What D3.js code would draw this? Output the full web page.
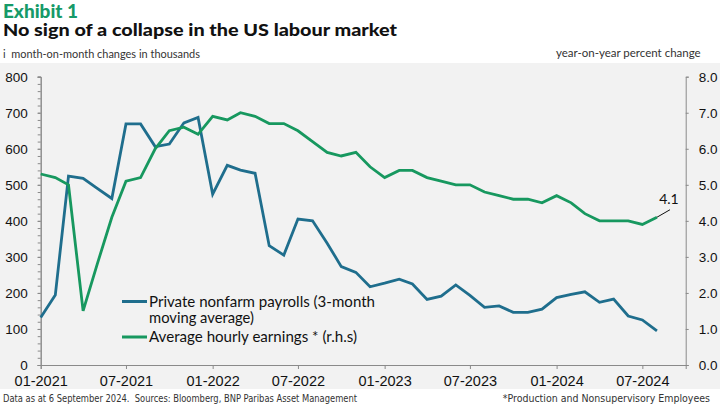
<!DOCTYPE html>
<html>
<head>
<meta charset="utf-8">
<script src="https://cdn.jsdelivr.net/npm/d3@7"></script>
<style>
  body { margin: 0; background: #fff; }
  svg { display: block; font-family: Lato, "Open Sans", sans-serif; }
  .axis path, .axis line { stroke: #8a8a8a; }
  .foot { font-family: "Liberation Sans Narrow", "DejaVu Sans Condensed", sans-serif; }
  .pre { white-space: pre; }
</style>
</head>
<body>
<div id="chart"></div>
<script>
// monthly observations, 01-2021 .. 08-2024
const months = [
  "2021-01","2021-02","2021-03","2021-04","2021-05","2021-06","2021-07","2021-08","2021-09","2021-10","2021-11","2021-12",
  "2022-01","2022-02","2022-03","2022-04","2022-05","2022-06","2022-07","2022-08","2022-09","2022-10","2022-11","2022-12",
  "2023-01","2023-02","2023-03","2023-04","2023-05","2023-06","2023-07","2023-08","2023-09","2023-10","2023-11","2023-12",
  "2024-01","2024-02","2024-03","2024-04","2024-05","2024-06","2024-07","2024-08"
];

// private nonfarm payrolls, 3-month moving average (thousands)
const payrolls = [
  132, 194, 524, 518, 490, 462, 669, 669, 606, 613, 672, 687,
  474, 554, 541, 532, 331, 305, 405, 400, 338, 273, 257, 217,
  227, 238, 225, 182, 191, 222, 193, 160, 164, 146, 146, 155,
  187, 196, 203, 174, 183, 136, 125, 95
];

// average hourly earnings, production & nonsupervisory (% y/y)
const earnings = [
  5.3, 5.2, 5.0, 1.5, 2.8, 4.1, 5.1, 5.2, 6.0, 6.5, 6.6, 6.4,
  6.9, 6.8, 7.0, 6.9, 6.7, 6.7, 6.5, 6.2, 5.9, 5.8, 5.9, 5.5,
  5.2, 5.4, 5.4, 5.2, 5.1, 5.0, 5.0, 4.8, 4.7, 4.6, 4.6, 4.5,
  4.7, 4.5, 4.2, 4.0, 4.0, 4.0, 3.9, 4.1
];

const leftTicks = [0, 100, 200, 300, 400, 500, 600, 700, 800];
const rightTicks = [0, 1, 2, 3, 4, 5, 6, 7, 8];
const xTicks = ["2021-01","2021-07","2022-01","2022-07","2023-01","2023-07","2024-01","2024-07"];

const blue = "#1f6e8d";
const green = "#17985f";

const W = 725, H = 408;
const margin = {top: 76.7, right: 39.3, bottom: 43, left: 40.7};

const parse = d3.timeParse("%Y-%m");
const dates = months.map(parse);

const svg = d3.select("#chart").append("svg")
    .attr("width", W)
    .attr("height", H);

// grey panel
svg.append("rect")
    .attr("x", 0).attr("y", 63)
    .attr("width", 720).attr("height", 326)
    .attr("fill", "#f2f2f2");

let x = d3.scaleTime()
    .domain([parse("2021-01"), parse("2024-10")])
    .range([margin.left, W - margin.right]);

let yL = d3.scaleLinear()
    .domain([0, 800])
    .range([365, margin.top]);

let yR = d3.scaleLinear()
    .domain([0, 8])
    .range([365, margin.top]);

// left axis: minor ticks then labelled ticks
svg.append("g")
    .attr("class", "axis")
    .attr("transform", `translate(${margin.left},0)`)
    .call(d3.axisLeft(yL).tickValues(d3.range(0, 801, 20)).tickSize(3).tickFormat(""));
svg.append("g")
    .attr("class", "axis")
    .attr("transform", `translate(${margin.left},0)`)
    .call(d3.axisLeft(yL).tickValues(leftTicks).tickSize(3).tickPadding(10))
    .call(g => g.selectAll("text").attr("font-size", 13.5).attr("fill", "#111"));

// right axis
svg.append("g")
    .attr("class", "axis")
    .attr("transform", `translate(${W - margin.right},0)`)
    .call(d3.axisRight(yR).tickValues(rightTicks).tickSize(3).tickPadding(10).tickFormat(d3.format(".1f")))
    .call(g => g.selectAll("text").attr("font-size", 13.5).attr("fill", "#111"));

// bottom axis
svg.append("g")
    .attr("class", "axis")
    .attr("transform", "translate(0,365)")
    .call(d3.axisBottom(x).tickValues(xTicks.map(parse)).tickSize(4).tickPadding(7).tickFormat(d3.timeFormat("%m-%Y")))
    .call(g => g.selectAll("text").attr("font-size", 14.5).attr("fill", "#111"));

// series
let lineL = d3.line().x((d, i) => x(dates[i])).y(d => yL(d));
let lineR = d3.line().x((d, i) => x(dates[i])).y(d => yR(d));

svg.append("path")
    .datum(payrolls)
    .attr("d", lineL)
    .attr("fill", "none")
    .attr("stroke", blue)
    .attr("stroke-width", 2.8)
    .attr("stroke-linejoin", "miter");

svg.append("path")
    .datum(earnings)
    .attr("d", lineR)
    .attr("fill", "none")
    .attr("stroke", green)
    .attr("stroke-width", 2.8)
    .attr("stroke-linejoin", "miter");

// last value callout
let lastX = x(dates[dates.length - 1]), lastY = yR(earnings[earnings.length - 1]);
svg.append("line")
    .attr("x1", lastX).attr("y1", lastY)
    .attr("x2", lastX + 13).attr("y2", lastY - 7.5)
    .attr("stroke", "#111").attr("stroke-width", 1);
svg.append("text")
    .attr("x", lastX + 12).attr("y", lastY - 13)
    .attr("text-anchor", "middle")
    .attr("font-size", 14)
    .attr("fill", "#111")
    .text(d3.format(".1f")(earnings[earnings.length - 1]));

// legend
let legend = svg.append("g").attr("font-size", 15).attr("fill", "#111");
legend.append("line").attr("x1", 122).attr("x2", 147).attr("y1", 301.5).attr("y2", 301.5)
    .attr("stroke", blue).attr("stroke-width", 3);
legend.append("text").attr("x", 149).attr("y", 306.5)
    .attr("textLength", 226).attr("lengthAdjust", "spacingAndGlyphs")
    .text("Private nonfarm payrolls (3-month");
legend.append("text").attr("x", 149).attr("y", 323)
    .attr("textLength", 105).attr("lengthAdjust", "spacingAndGlyphs")
    .text("moving average)");
legend.append("line").attr("x1", 122).attr("x2", 147).attr("y1", 337).attr("y2", 337)
    .attr("stroke", green).attr("stroke-width", 3);
legend.append("text").attr("x", 149).attr("y", 342)
    .attr("textLength", 208).attr("lengthAdjust", "spacingAndGlyphs")
    .text("Average hourly earnings * (r.h.s)");

// headings
svg.append("text")
    .attr("x", 3).attr("y", 17.6)
    .attr("font-size", 18).attr("font-weight", 900)
    .attr("fill", "#169a68")
    .attr("textLength", 75).attr("lengthAdjust", "spacingAndGlyphs")
    .text("Exhibit 1");
svg.append("text")
    .attr("x", 3).attr("y", 35.5)
    .attr("font-size", 17.5).attr("font-weight", 900)
    .attr("fill", "#111")
    .attr("textLength", 394).attr("lengthAdjust", "spacingAndGlyphs")
    .text("No sign of a collapse in the US labour market");
svg.append("text")
    .attr("class", "pre")
    .attr("x", 3).attr("y", 57.5)
    .attr("font-size", 11.5)
    .attr("fill", "#333")
    .attr("textLength", 197).attr("lengthAdjust", "spacingAndGlyphs")
    .text("i  month-on-month changes in thousands");
svg.append("text")
    .attr("x", 700.7).attr("y", 57.3)
    .attr("text-anchor", "end")
    .attr("font-size", 11.5)
    .attr("fill", "#333")
    .text("year-on-year percent change");

// footer
svg.append("text")
    .attr("class", "foot pre")
    .attr("x", 3).attr("y", 401.5)
    .attr("font-size", 10.5).attr("fill", "#333")
    .attr("textLength", 354).attr("lengthAdjust", "spacingAndGlyphs")
    .text("Data as at 6 September 2024.  Sources: Bloomberg, BNP Paribas Asset Management");
svg.append("text")
    .attr("class", "foot")
    .attr("x", 710).attr("y", 401.5)
    .attr("text-anchor", "end")
    .attr("font-size", 10.5).attr("fill", "#333")
    .text("*Production and Nonsupervisory Employees");
</script>
</body>
</html>
